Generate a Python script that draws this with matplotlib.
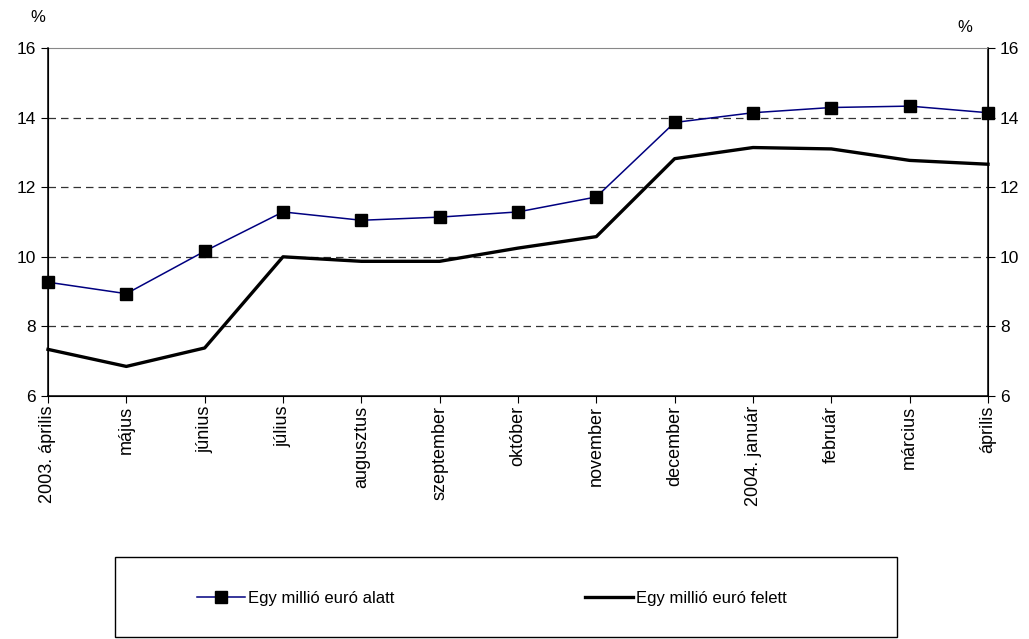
import matplotlib.pyplot as plt
from matplotlib.patches import Rectangle

plt.rcParams['font.family'] = ['Liberation Sans', 'DejaVu Sans']

honapok = ['2003. április', 'május', 'június', 'július', 'augusztus', 'szeptember',
           'október', 'november', 'december', '2004. január', 'február', 'március', 'április']
alatt = [9.27, 8.94, 10.16, 11.29, 11.05, 11.14, 11.29, 11.72, 13.86, 14.14, 14.29, 14.33, 14.14]
felett = [7.34, 6.85, 7.38, 10.0, 9.87, 9.87, 10.25, 10.58, 12.82, 13.14, 13.10, 12.77, 12.66]
y_ticks = [6, 8, 10, 12, 14, 16]

fig = plt.figure(figsize=(10.29, 6.39), dpi=100)
ax = fig.add_axes([48 / 1029, 1 - 396 / 639, 940 / 1029, 348 / 639])

x = list(range(len(honapok)))
ax.plot(x, alatt, color='#000080', lw=1.1, marker='s', ms=8, mfc='black', mec='black',
        clip_on=False, zorder=4, label='Egy millió euró alatt')
ax.plot(x, felett, color='black', lw=2.4, clip_on=False, zorder=3, label='Egy millió euró felett')

ax.set_xlim(0, len(honapok) - 1)
ax.set_ylim(6, 16)
ax.set_yticks(y_ticks)
ax.set_xticks(x)
ax.set_xticklabels(honapok, rotation=90, fontsize=13)
ax.tick_params(axis='y', labelsize=12.5, direction='out', length=5)
ax.tick_params(axis='x', direction='out', length=5, pad=2)
for v in y_ticks[1:-1]:
    ax.axhline(v, color='#333333', lw=0.9, ls=(0, (6, 4)), zorder=1)
ax.spines['top'].set_color('#888888')
for s in ['left', 'bottom', 'right']:
    ax.spines[s].set_linewidth(1.1)

ax2 = ax.twinx()
ax2.set_ylim(6, 16)
ax2.set_yticks(y_ticks)
ax2.tick_params(axis='y', labelsize=12.5, direction='out', length=5)
ax2.spines['top'].set_visible(False)

fig.text(38 / 1029, 1 - 18 / 639, '%', fontsize=12, ha='center', va='center')
fig.text(965 / 1029, 1 - 28 / 639, '%', fontsize=12, ha='center', va='center')

# keret a jelmagyarázat körül
fig.patches.append(Rectangle((115 / 1029, 1 - 637 / 639), 782 / 1029, 80 / 639,
                             transform=fig.transFigure, fill=False, ec='black', lw=1))
h, l = ax.get_legend_handles_labels()
fig.legend(h, l, loc='center', bbox_to_anchor=(492 / 1029, 1 - 598 / 639), ncol=2,
           frameon=False, fontsize=12, handlelength=2.9, handletextpad=0.2,
           columnspacing=11.4)

fig.savefig('out.png', dpi=100)
